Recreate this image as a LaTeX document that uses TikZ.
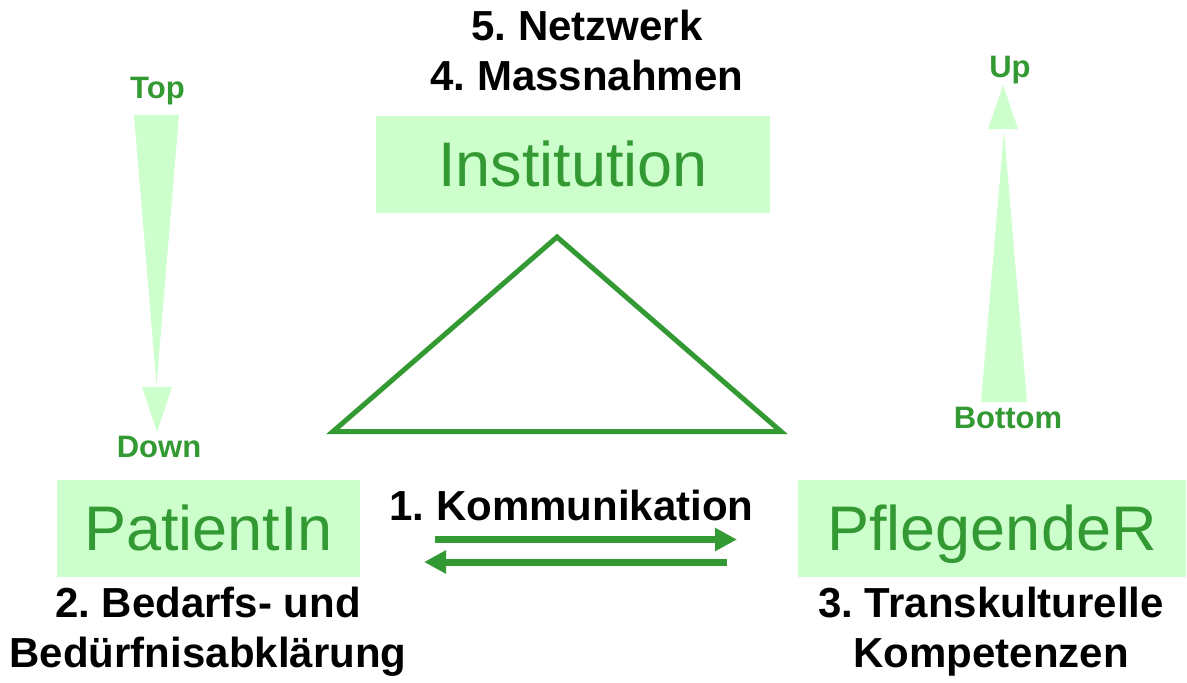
\documentclass[tikz,border=0pt]{standalone}
\usepackage{fontspec}
\setmainfont{Liberation Sans}
\frenchspacing
\usetikzlibrary{arrows.meta}
\definecolor{dkgreen}{RGB}{51,153,51}
\definecolor{ltgreen}{RGB}{204,255,204}
\tikzset{
    box/.style={fill=ltgreen, text=dkgreen, inner sep=0pt, minimum height=97pt,
        text height=45pt, text depth=0pt, font=\fontsize{63}{70}\selectfont},
    txt/.style={font=\fontsize{42}{50}\selectfont\bfseries, align=center, inner sep=0pt, anchor=base},
    dirtxt/.style={text=dkgreen, font=\fontsize{31}{36}\selectfont\bfseries, inner sep=0pt, anchor=base},
    comm/.style={draw=dkgreen, line width=7pt, -{Triangle[length=22pt,width=22pt]}}
}
\begin{document}
\begin{tikzpicture}[x=1pt,y=-1pt]
    \useasboundingbox (0,0) rectangle (1187,683);
    \node[box, minimum width=394pt] (inst) at (573,164) {Institution};
    \node[box, minimum width=303pt] (pat) at (208.5,528) {PatientIn};
    \node[box, minimum width=388pt] (pfl) at (992,528) {PflegendeR};

    % base = last line
    \node[txt] (netz) at (587,90) {5. Netzwerk\\4. Massnahmen};
    \node[txt] (bed) at (208,667) {2. Bedarfs- und\\Bedürfnisabklärung};
    \node[txt] (trans) at (991,667) {3. Transkulturelle\\Kompetenzen};
    \node[txt] (komm) at (571.5,520) {1. Kommunikation};

    % triangle
    \coordinate (ta) at (557,237);
    \coordinate (tl) at (333,431.5);
    \coordinate (tr) at (781,431.5);
    \draw [dkgreen, line width=5pt, line join=miter] (ta) -- (tl) -- (tr) -- cycle;

    % communication arrows
    \coordinate (k1) at (435,539.5);
    \coordinate (k2) at (737,539.5);
    \coordinate (k3) at (727,562);
    \coordinate (k4) at (424,562);
    \draw [comm] (k1) -- (k2);
    \draw [comm] (k3) -- (k4);

    % top -> down
    \fill [ltgreen] (134,115) -- (179,115) -- (156.5,385) -- cycle;
    \fill [ltgreen] (142,387) -- (172,387) -- (157,432) -- cycle;
    \node[dirtxt] (top) at (157.5,98) {Top};
    \node[dirtxt] (down) at (159,457) {Down};

    % bottom -> up
    \fill [ltgreen] (981,402) -- (1027,402) -- (1004,131) -- cycle;
    \fill [ltgreen] (988,129) -- (1018,129) -- (1003,85) -- cycle;
    \node[dirtxt] (up) at (1010,77) {Up};
    \node[dirtxt] (bottom) at (1008,428) {Bottom};
\end{tikzpicture}
\end{document}
